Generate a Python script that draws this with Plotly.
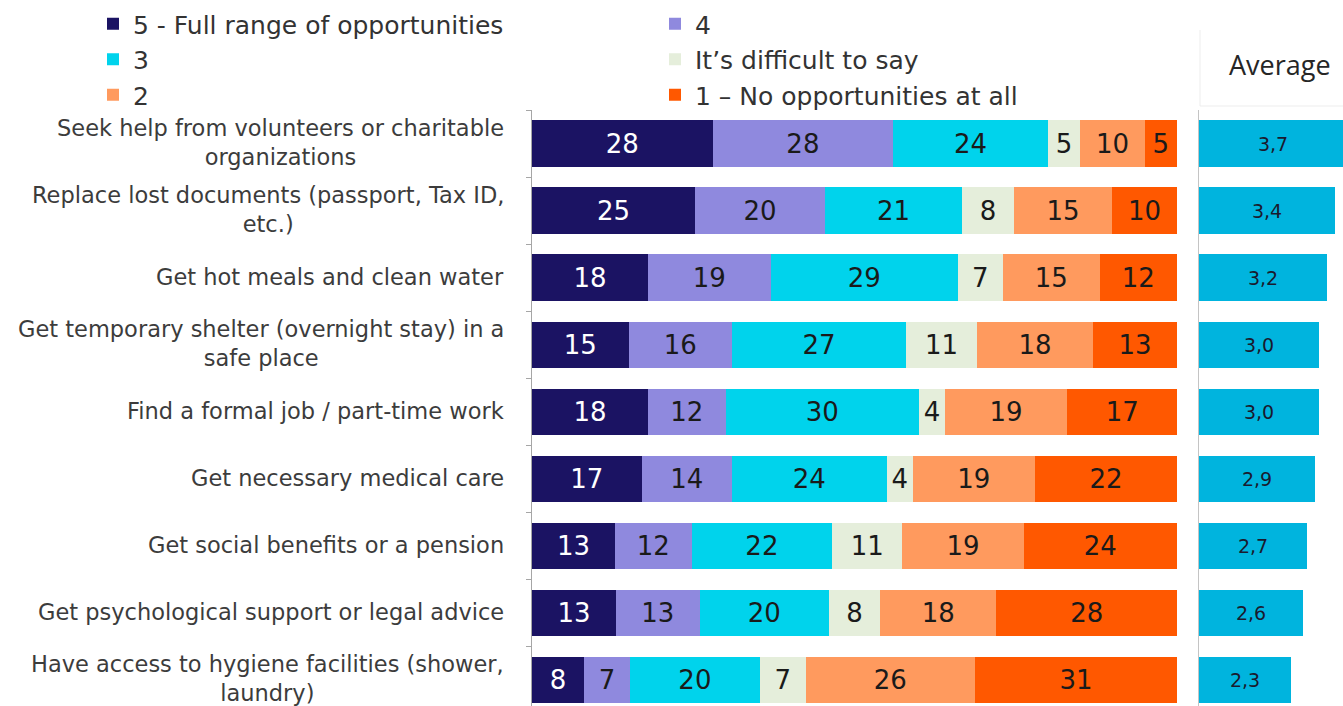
import plotly.graph_objects as go

# Categories (top to bottom)
labels = [
    "Seek help from volunteers or charitable<br>organizations",
    "Replace lost documents (passport, Tax ID,<br>etc.)",
    "Get hot meals and clean water",
    "Get temporary shelter (overnight stay) in a<br>safe place",
    "Find a formal job / part-time work",
    "Get necessary medical care",
    "Get social benefits or a pension",
    "Get psychological support or legal advice",
    "Have access to hygiene facilities (shower,<br>laundry)",
]

# Shares of answers, %
s5 = [28, 25, 18, 15, 18, 17, 13, 13, 8]
s4 = [28, 20, 19, 16, 12, 14, 12, 13, 7]
s3 = [24, 21, 29, 27, 30, 24, 22, 20, 20]
s_dk = [5, 8, 7, 11, 4, 4, 11, 8, 7]
s2 = [10, 15, 15, 18, 19, 19, 19, 18, 26]
s1 = [5, 10, 12, 13, 17, 22, 24, 28, 31]

# Average score
avg = [3.7, 3.4, 3.2, 3.0, 3.0, 2.9, 2.7, 2.6, 2.3]

series_names = ["5 - Full range of opportunities", "4", "3",
                "It\u2019s difficult to say", "2", "1 \u2013 No opportunities at all"]
series_values = [s5, s4, s3, s_dk, s2, s1]
series_colors = ["#1b1363", "#8f89de", "#00d3ec", "#e5eedb", "#ff9a5e", "#ff5800"]
series_text_colors = ["#ffffff", "#1a1a1a", "#1a1a1a", "#1a1a1a", "#1a1a1a", "#1a1a1a"]
series_legend = ["legend", "legend2", "legend", "legend2", "legend", "legend2"]

# Rounded shares don't always add up to 100, so each row is scaled to its total
row_totals = [sum(col) for col in zip(*series_values)]

W, H = 1343, 706
TOP = 110
PLOT_H = H - TOP
FONT = "DejaVu Sans"


def py(pixel_y):
    """Paper y coordinate for a pixel row measured from the top of the page."""
    return 1 + (TOP - pixel_y) / PLOT_H


fig = go.Figure()

for name, vals, col, tcol, leg in zip(series_names, series_values, series_colors,
                                      series_text_colors, series_legend):
    fig.add_trace(go.Bar(
        y=labels, x=[v * 100 / t for v, t in zip(vals, row_totals)],
        name=name, orientation="h",
        marker=dict(color=col, line=dict(width=0)),
        text=[str(v) for v in vals],
        textposition="inside", insidetextanchor="middle", textangle=0,
        textfont=dict(family=FONT, size=26, color=tcol),
        xaxis="x", yaxis="y", legend=leg,
        hoverinfo="skip",
    ))

fig.add_trace(go.Bar(
    y=labels, x=avg, orientation="h", showlegend=False,
    marker=dict(color="#00b4de", line=dict(width=0)),
    text=[f"{v:.1f}".replace(".", ",") for v in avg],
    textposition="inside", insidetextanchor="middle", textangle=0,
    textfont=dict(family=FONT, size=19, color="#1a1a2e"),
    xaxis="x2", yaxis="y2", hoverinfo="skip",
))

# Category labels, centred lines, right-aligned block
annotations = [
    dict(text=lab, x=506 / W, xref="paper", y=lab, yref="y", yshift=1,
         xanchor="right", yanchor="middle", align="center", showarrow=False,
         font=dict(family=FONT, size=22.5, color="#3c3c3c"))
    for lab in labels
]
annotations.append(dict(
    text="Average", x=1280 / W, xref="paper", y=py(65), yref="paper",
    xanchor="center", yanchor="middle", showarrow=False,
    font=dict(family="Open Sans", size=27, color="#262626")))

yrange = [8.39, -0.5]

legend_style = dict(xanchor="left", y=py(1), yanchor="top", orientation="v",
                    traceorder="normal", bgcolor="rgba(0,0,0,0)",
                    font=dict(family=FONT, size=25, color="#333333"))

fig.update_layout(
    width=W, height=H,
    margin=dict(l=0, r=0, t=TOP, b=0, pad=0),
    paper_bgcolor="white", plot_bgcolor="white",
    barmode="stack", bargap=0.31,
    xaxis=dict(domain=[532 / W, 1177 / W], range=[0, 100], visible=False),
    yaxis=dict(range=yrange, showticklabels=False, showgrid=False, zeroline=False,
               showline=True, linecolor="#a6a6a6", linewidth=1,
               ticks="outside", tickson="boundaries", ticklen=5,
               tickcolor="#a6a6a6", tickwidth=1),
    xaxis2=dict(domain=[1199 / W, 1], range=[0, 3.6], visible=False, anchor="y2"),
    yaxis2=dict(range=yrange, anchor="x2", showticklabels=False, showgrid=False,
                zeroline=False, showline=True, linecolor="#c4c4c4", linewidth=1,
                ticks=""),
    legend=dict(x=93 / W, **legend_style),
    legend2=dict(x=655 / W, **legend_style),
    annotations=annotations,
    shapes=[
        dict(type="line", xref="paper", yref="paper",
             x0=1200 / W, x1=1200 / W, y0=py(30), y1=py(106),
             line=dict(color="#ededed", width=1)),
        dict(type="line", xref="paper", yref="paper",
             x0=1200 / W, x1=1, y0=py(106), y1=py(106),
             line=dict(color="#ededed", width=1)),
    ],
)

fig.write_html("out.html")
